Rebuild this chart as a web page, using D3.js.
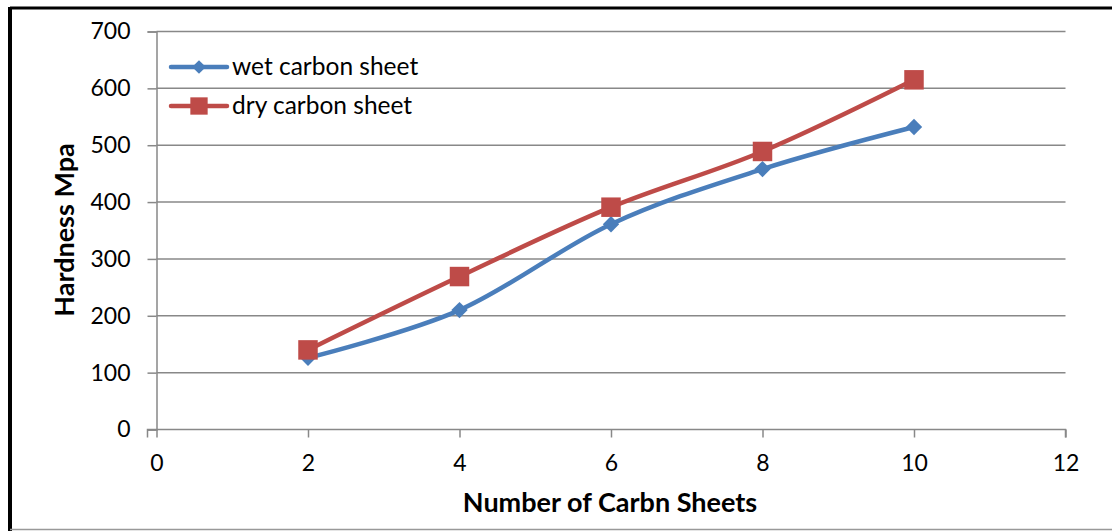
<!DOCTYPE html>
<html>
<head>
<meta charset="utf-8">
<script src="https://cdn.jsdelivr.net/npm/d3@7"></script>
<style>
  html, body { margin: 0; padding: 0; background: #fff; }
  svg { display: block; font-family: Lato, "Open Sans", sans-serif; }
</style>
</head>
<body>
<svg id="chart" width="1112" height="531"></svg>
<script>
// Hardness versus number of carbon sheets
const sheets = [2, 4, 6, 8, 10];
const wetHardness = [126, 210, 361, 458, 532];
const dryHardness = [140, 269, 391, 489, 615];
const seriesNames = ["wet carbon sheet", "dry carbon sheet"];
const xTicks = [0, 2, 4, 6, 8, 10, 12];
const yTicks = [0, 100, 200, 300, 400, 500, 600, 700];

const svg = d3.select("#chart");
const W = 1112, H = 531;

// frame
svg.append("line").attr("x1", 10).attr("x2", W).attr("y1", 8).attr("y2", 8)
  .attr("stroke", "#000").attr("stroke-width", 3);
svg.append("line").attr("x1", 10).attr("x2", 10).attr("y1", 7).attr("y2", H)
  .attr("stroke", "#000").attr("stroke-width", 4);
svg.append("line").attr("x1", 10).attr("x2", W).attr("y1", 529.5).attr("y2", 529.5)
  .attr("stroke", "#999").attr("stroke-width", 1.5);

const x = d3.scaleLinear().domain([0, 12]).range([156.5, 1065.5]);
const y = d3.scaleLinear().domain([0, 700]).range([429.5, 31.5]);

const gridColor = "#888";

// horizontal gridlines
svg.append("g").selectAll("line").data(yTicks.filter(v => v > 0)).join("line")
  .attr("x1", x(0)).attr("x2", x(12))
  .attr("y1", d => y(d)).attr("y2", d => y(d))
  .attr("stroke", gridColor).attr("stroke-width", 1.5);

// y axis
const yAxis = svg.append("g").attr("transform", `translate(${x(0)},0)`)
  .call(d3.axisLeft(y).tickValues(yTicks).tickSize(9).tickPadding(17));
yAxis.select(".domain").attr("stroke", gridColor).attr("stroke-width", 1.5);
yAxis.selectAll(".tick line").attr("stroke", gridColor).attr("stroke-width", 1.5);
yAxis.selectAll(".tick text").attr("font-size", 23).attr("fill", "#000")
  .attr("font-family", "Lato, sans-serif");

// x axis
const xAxis = svg.append("g").attr("transform", `translate(0,${y(0)})`)
  .call(d3.axisBottom(x).tickValues(xTicks).tickSize(8).tickPadding(17));
xAxis.select(".domain").attr("stroke", gridColor).attr("stroke-width", 1.5)
  .attr("d", `M${x(0) - 9},8V0H${x(12)}V8`);
xAxis.selectAll(".tick line").attr("stroke", gridColor).attr("stroke-width", 1.5);
xAxis.selectAll(".tick text").attr("font-size", 23).attr("fill", "#000")
  .attr("font-family", "Lato, sans-serif");

// axis titles
svg.append("text").attr("x", 610).attr("y", 512).attr("text-anchor", "middle")
  .attr("font-size", 27).attr("font-weight", "bold").text("Number of Carbn Sheets");
svg.append("text").attr("transform", "translate(74,230) rotate(-90)")
  .attr("text-anchor", "middle").attr("font-size", 27).attr("font-weight", "bold")
  .text("Hardness Mpa");

const colors = ["#4A7EBB", "#BE4B48"];
const line = d3.line().x(d => x(d[0])).y(d => y(d[1])).curve(d3.curveCatmullRom.alpha(0));

const series = [wetHardness, dryHardness].map(vals => sheets.map((s, i) => [s, vals[i]]));

series.forEach((pts, k) => {
  svg.append("path").datum(pts).attr("d", line)
    .attr("fill", "none").attr("stroke", colors[k]).attr("stroke-width", 4.5)
    .attr("stroke-linejoin", "round").attr("stroke-linecap", "round");
});

const diamond = d3.symbol().type(d3.symbolDiamond2).size(170);
const square = d3.symbol().type(d3.symbolSquare).size(380);

series.forEach((pts, k) => {
  svg.append("g").selectAll("path").data(pts).join("path")
    .attr("transform", d => `translate(${x(d[0])},${y(d[1])})`)
    .attr("d", k === 0 ? diamond : square)
    .attr("fill", colors[k]);
});

// legend
const legend = svg.append("g");
[67, 106].forEach((ly, k) => {
  legend.append("line").attr("x1", 171).attr("x2", 227).attr("y1", ly).attr("y2", ly)
    .attr("stroke", colors[k]).attr("stroke-width", 4.5).attr("stroke-linecap", "round");
  legend.append("path").attr("transform", `translate(199,${ly})`)
    .attr("d", k === 0 ? d3.symbol().type(d3.symbolDiamond2).size(120) : d3.symbol().type(d3.symbolSquare).size(300))
    .attr("fill", colors[k]);
  legend.append("text").attr("x", 232).attr("y", ly + 8).attr("font-size", 24.5)
    .text(seriesNames[k]);
});
</script>
</body>
</html>
